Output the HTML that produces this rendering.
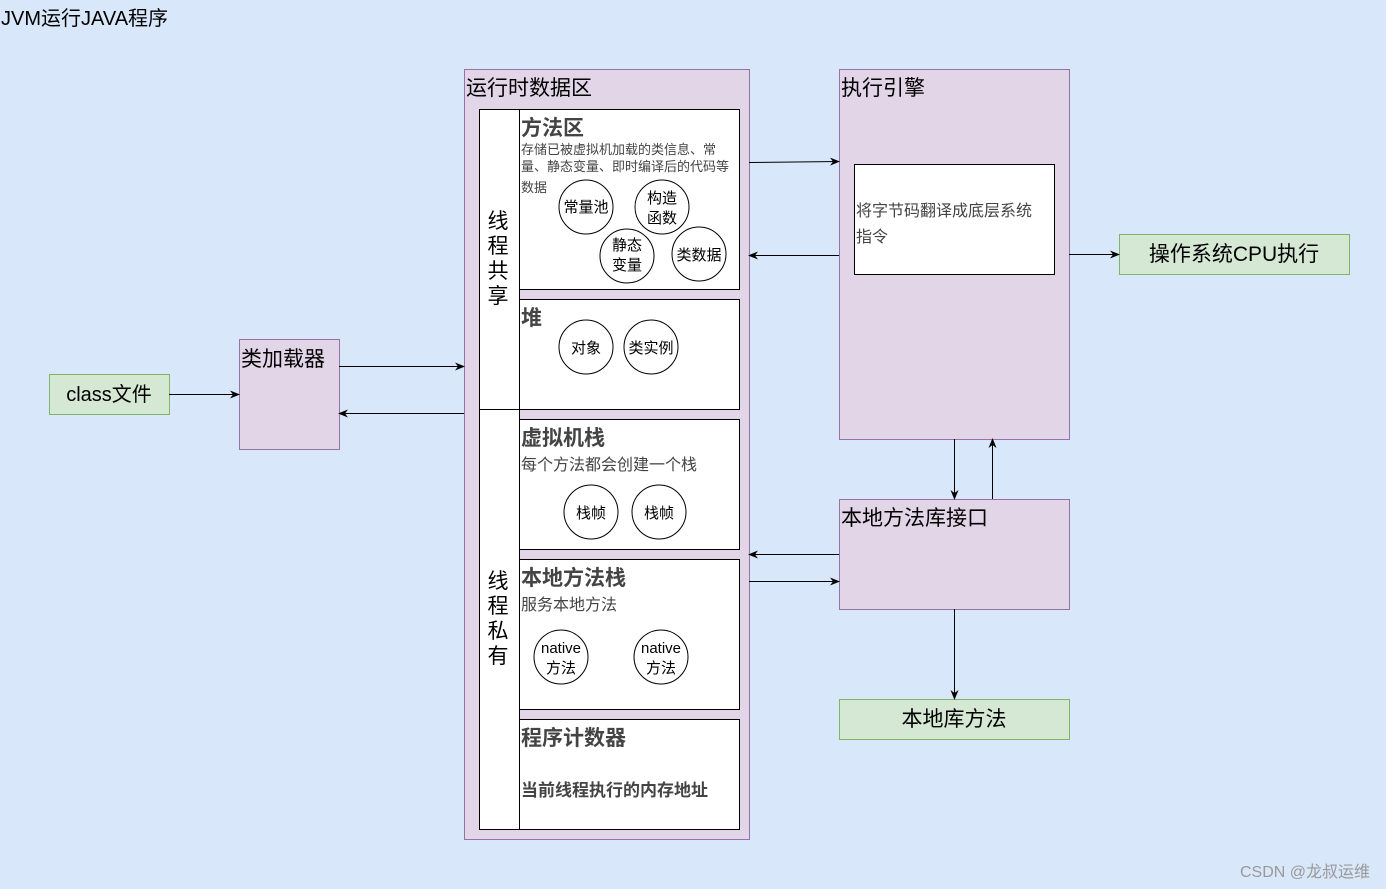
<!DOCTYPE html>
<html><head><meta charset="utf-8"><style>
html,body{margin:0;padding:0;background:#d8e7fa;}
svg{display:block;}
text{font-family:"Liberation Sans","Noto Sans CJK SC",sans-serif;}
</style></head><body>
<svg width="1386" height="889" viewBox="0 0 1386 889" xmlns="http://www.w3.org/2000/svg">
<defs><marker id="a" markerWidth="10" markerHeight="8" refX="9" refY="4" orient="auto" markerUnits="userSpaceOnUse"><path d="M0,0 L10,4 L0,8 L3,4z" fill="#000"/></marker></defs>
<rect width="1386" height="889" fill="#d8e7fa"/>
<text x="1" y="25" font-size="20" fill="#000">JVM运行JAVA程序</text>

<rect x="49.5" y="374.5" width="120" height="40" fill="#d5e8d4" stroke="#82b366"/>
<text x="109" y="401" font-size="20" text-anchor="middle">class文件</text>

<rect x="239.5" y="339.5" width="100" height="110" fill="#e1d5e7" stroke="#9673a6"/>
<text x="241" y="366" font-size="21">类加载器</text>

<rect x="464.5" y="69.5" width="285" height="770" fill="#e1d5e7" stroke="#9673a6"/>
<text x="466" y="95" font-size="21">运行时数据区</text>
<rect x="479.5" y="109.5" width="40" height="720" fill="#fff" stroke="#000"/>
<line x1="479.5" y1="409.5" x2="519.5" y2="409.5" stroke="#000"/>
<g font-size="21" text-anchor="middle">
<text x="498" y="228">线</text><text x="498" y="253">程</text><text x="498" y="278">共</text><text x="498" y="303">享</text>
<text x="498" y="588">线</text><text x="498" y="613">程</text><text x="498" y="638">私</text><text x="498" y="663">有</text>
</g>

<g fill="#fff" stroke="#000">
<rect x="519.5" y="109.5" width="220" height="180"/>
<rect x="519.5" y="299.5" width="220" height="110"/>
<rect x="519.5" y="419.5" width="220" height="130"/>
<rect x="519.5" y="559.5" width="220" height="150"/>
<rect x="519.5" y="719.5" width="220" height="110"/>
</g>
<g font-size="21" font-weight="bold" fill="#444">
<text x="521" y="135">方法区</text>
<text x="521" y="325">堆</text>
<text x="521" y="445">虚拟机栈</text>
<text x="521" y="585">本地方法栈</text>
<text x="521" y="745">程序计数器</text>
</g>
<g font-size="13" fill="#444">
<text x="521" y="154">存储已被虚拟机加载的类信息、常</text>
<text x="521" y="171">量、静态变量、即时编译后的代码等</text>
<text x="521" y="192">数据</text>
</g>
<text x="521" y="470" font-size="16" fill="#444">每个方法都会创建一个栈</text>
<text x="521" y="610" font-size="16" fill="#444">服务本地方法</text>
<text x="521" y="796" font-size="17" font-weight="bold" fill="#444">当前线程执行的内存地址</text>

<g fill="#fff" stroke="#000">
<circle cx="586" cy="207" r="27"/><circle cx="662" cy="207" r="27"/>
<circle cx="627" cy="256" r="27"/><circle cx="699" cy="254" r="27"/>
<circle cx="586" cy="347" r="27"/><circle cx="651" cy="347" r="27"/>
<circle cx="591" cy="512" r="27"/><circle cx="659" cy="512" r="27"/>
<circle cx="561" cy="657" r="27"/><circle cx="661" cy="657" r="27"/>
</g>
<g font-size="15" text-anchor="middle">
<text x="586" y="212">常量池</text>
<text x="662" y="203">构造</text><text x="662" y="223">函数</text>
<text x="627" y="250">静态</text><text x="627" y="270">变量</text>
<text x="699" y="260">类数据</text>
<text x="586" y="353">对象</text><text x="651" y="353">类实例</text>
<text x="591" y="518">栈帧</text><text x="659" y="518">栈帧</text>
<text x="561" y="653">native</text><text x="561" y="673">方法</text>
<text x="661" y="653">native</text><text x="661" y="673">方法</text>
</g>

<rect x="839.5" y="69.5" width="230" height="370" fill="#e1d5e7" stroke="#9673a6"/>
<text x="841" y="95" font-size="21">执行引擎</text>
<rect x="854.5" y="164.5" width="200" height="110" fill="#fff" stroke="#000"/>
<text x="856" y="216" font-size="16" fill="#444">将字节码翻译成底层系统</text>
<text x="856" y="242" font-size="16" fill="#444">指令</text>

<rect x="1119.5" y="234.5" width="230" height="40" fill="#d5e8d4" stroke="#82b366"/>
<text x="1234" y="261" font-size="21" text-anchor="middle">操作系统CPU执行</text>

<rect x="839.5" y="499.5" width="230" height="110" fill="#e1d5e7" stroke="#9673a6"/>
<text x="841" y="525" font-size="21">本地方法库接口</text>

<rect x="839.5" y="699.5" width="230" height="40" fill="#d5e8d4" stroke="#82b366"/>
<text x="954" y="726" font-size="21" text-anchor="middle">本地库方法</text>

<g stroke="#000" fill="none" marker-end="url(#a)">
<line x1="169" y1="394.5" x2="239" y2="394.5"/>
<line x1="339" y1="366.5" x2="464" y2="366.5"/>
<line x1="464" y1="413.5" x2="339" y2="413.5"/>
<line x1="749" y1="162.5" x2="839" y2="161.5"/>
<line x1="839" y1="255.5" x2="749" y2="255.5"/>
<line x1="1069" y1="254.5" x2="1119" y2="254.5"/>
<line x1="954.5" y1="439" x2="954.5" y2="499"/>
<line x1="992.5" y1="499" x2="992.5" y2="439"/>
<line x1="839" y1="554.5" x2="749" y2="554.5"/>
<line x1="749" y1="581.5" x2="839" y2="581.5"/>
<line x1="954.5" y1="609" x2="954.5" y2="699"/>
</g>
<text x="1370" y="877" font-size="16" fill="#999" text-anchor="end">CSDN @龙叔运维</text>
</svg>
</body></html>
